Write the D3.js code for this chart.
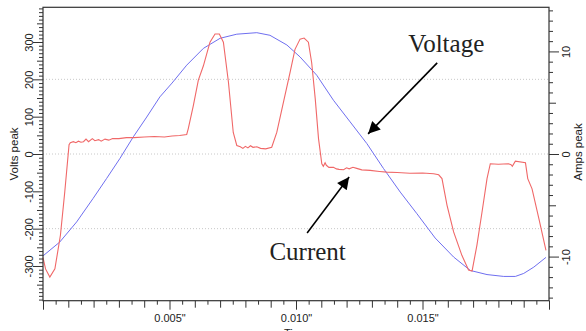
<!DOCTYPE html>
<html><head><meta charset="utf-8">
<script src="https://cdn.jsdelivr.net/npm/d3@7"></script>
<style>
html,body{margin:0;padding:0;background:#fff;}
svg{display:block;}
text{font-family:"Liberation Sans",Arial,sans-serif;fill:#222;}
</style></head>
<body>
<svg id="chart" width="586" height="331"></svg>
<script>
// ---- data (time in ms) ----
const voltageTime = [0,0.66,1.33,1.98,2.51,3.04,3.57,4.1,4.62,5.1,5.68,6.34,7.0,7.66,8.45,8.97,9.64,10.16,10.82,11.48,12.14,12.8,13.46,14.12,14.78,15.5,16.23,16.89,17.55,18.21,18.67,19.0,19.4,19.88];
const voltageValues = [-273,-236,-182,-119,-66,-12,46,99,153,190,238,283,310,321,325,318,292,260,211,144,86,28,-39,-102,-160,-225,-276,-312,-323,-328,-328,-320,-303,-277];

const currentTime = [0,0.1,0.27,0.47,0.69,0.86,1.03,1.08,1.2,1.3,1.4,1.5,1.6,1.7,1.8,1.95,2.05,2.2,2.3,2.45,2.6,2.75,3.0,3.3,3.6,4.0,4.4,4.8,5.1,5.4,5.68,5.74,5.94,6.14,6.34,6.6,6.8,6.97,7.13,7.33,7.52,7.66,7.8,7.9,8.0,8.1,8.2,8.3,8.45,8.6,8.8,9.04,9.24,9.5,9.77,9.96,10.16,10.32,10.49,10.62,10.76,10.89,11.02,11.08,11.15,11.2,11.3,11.48,11.6,11.7,11.88,12.0,12.1,12.25,12.4,12.6,12.93,13.3,13.59,14.0,14.5,15.0,15.44,15.64,15.77,15.97,16.23,16.56,16.82,16.96,17.15,17.35,17.55,17.68,18.0,18.4,18.5,18.55,18.67,19.07,19.16,19.33,19.6,19.88];
const currentValues = [-10.1,-11.2,-12.0,-11.2,-7.9,-3.7,0.9,1.1,1.2,1.1,1.25,1.15,1.2,1.45,1.2,1.5,1.3,1.4,1.25,1.45,1.35,1.5,1.5,1.6,1.6,1.65,1.7,1.65,1.75,1.8,1.9,2.45,4.7,7.2,8.6,10.9,11.7,11.7,10.9,7.0,2.1,0.83,0.7,0.55,0.75,0.6,0.8,0.65,0.7,0.55,0.5,0.66,2.1,5.0,8.0,10.2,11.2,11.3,10.9,8.9,5.4,1.5,-0.95,-1.2,-0.85,-1.1,-1.3,-1.3,-1.45,-1.5,-1.54,-1.35,-1.45,-1.3,-1.4,-1.55,-1.6,-1.7,-1.77,-1.8,-1.87,-1.85,-1.93,-2.03,-2.4,-5.0,-7.6,-9.9,-11.3,-11.4,-8.9,-5.7,-2.4,-0.95,-1.0,-0.95,-1.05,-1.2,-0.7,-0.86,-2.4,-3.4,-6.3,-9.4];

const xDomainMs = [0, 20];
const voltDomain = [-393, 393];
const ampDomain = [-14.3, 14.3];
const xLabelTicksMs = [5, 10, 15];
const voltLabelTicks = [-300,-200,-100,0,100,200,300];
const ampLabelTicks = [-10, 0, 10];
const gridVolts = [-200, 0, 200];

// annotations
const annotationLabels = ["Voltage", "Current"];
const annotationText = [[14.44, 272], [8.95, -10.33]];
const annotationArrows = [[15.58, 244, 12.85, 54], [10.44, -7.7, 12.1, -2.24]];
const annotationAxis = ["volt", "amp"];

// ---- layout ----
const W = 586, H = 331;
const m = {left: 43, top: 7.3, right: 37, bottom: 30.3};
const svg = d3.select("#chart");
const x = d3.scaleLinear().domain(xDomainMs).range([m.left, W - m.right]);
const yV = d3.scaleLinear().domain(voltDomain).range([H - m.bottom, m.top]);
const yA = d3.scaleLinear().domain(ampDomain).range([H - m.bottom, m.top]);

// grid
svg.append("g").selectAll("line").data(gridVolts).join("line")
  .attr("x1", m.left).attr("x2", W - m.right)
  .attr("y1", d => yV(d)).attr("y2", d => yV(d))
  .attr("stroke", "#c8c8c8").attr("stroke-width", 1).attr("stroke-dasharray", "1,2");

// lines
const vLine = d3.line().x((d, i) => x(voltageTime[i])).y(d => yV(d));
const aLine = d3.line().x((d, i) => x(currentTime[i])).y(d => yA(d));
svg.append("path").datum(voltageValues).attr("d", vLine)
  .attr("fill", "none").attr("stroke", "#6f6ff0").attr("stroke-width", 1);
svg.append("path").datum(currentValues).attr("d", aLine)
  .attr("fill", "none").attr("stroke", "#f06868").attr("stroke-width", 1.1);

// axes
const fsz = "11px";
// bottom
const xt = d3.range(0, 20.001, 0.5).map(v => +v.toFixed(1));
const gx = svg.append("g").attr("transform", `translate(0,${H - m.bottom})`)
  .call(d3.axisBottom(x).tickValues(xt).tickSizeOuter(0)
    .tickFormat(d => xLabelTicksMs.includes(d) ? (d / 1000).toFixed(3) + '"' : ""));
gx.select(".domain").remove();
gx.selectAll(".tick line").attr("stroke", "#333")
  .attr("y2", d => d % 5 === 0 ? 9 : (d % 1 === 0 ? 7 : 4));
gx.selectAll(".tick text").attr("y", 14).attr("dy", "0.71em").style("font-size", fsz).attr("fill", "#222");
svg.append("text").attr("x", (x.range()[0] + x.range()[1]) / 2).attr("y", 337)
  .attr("text-anchor", "middle").style("font-size", fsz).text("Time");

// left
const vt = d3.range(-390, 391, 10);
const gl = svg.append("g").attr("transform", `translate(${m.left},0)`)
  .call(d3.axisLeft(yV).tickValues(vt).tickSizeOuter(0)
    .tickFormat(d => voltLabelTicks.includes(d) ? d : ""));
gl.select(".domain").remove();
gl.selectAll(".tick line").attr("stroke", "#333")
  .attr("x2", d => d % 100 === 0 ? -10 : (d % 50 === 0 ? -6 : -4));
gl.selectAll(".tick text").attr("x", 0).attr("dy", 0)
  .attr("transform", "translate(-10,0) rotate(-90)")
  .attr("text-anchor", "middle").style("font-size", fsz).attr("fill", "#222");
svg.append("text").attr("transform", `translate(18,${yV(0)}) rotate(-90)`)
  .attr("text-anchor", "middle").style("font-size", "11.5px").text("Volts peak");

// right
const at = d3.range(-14, 15, 1);
const gr = svg.append("g").attr("transform", `translate(${W - m.right},0)`)
  .call(d3.axisRight(yA).tickValues(at).tickSizeOuter(0)
    .tickFormat(d => ampLabelTicks.includes(d) ? d : ""));
gr.select(".domain").remove();
gr.selectAll(".tick line").attr("stroke", "#333")
  .attr("x2", d => d % 10 === 0 ? 10 : (d % 5 === 0 ? 7 : 4));
gr.selectAll(".tick text").attr("x", 0).attr("dy", 0)
  .attr("transform", "translate(21,0) rotate(-90)")
  .attr("text-anchor", "middle").style("font-size", fsz).attr("fill", "#222");
svg.append("text").attr("transform", `translate(582,${yA(0) - 2}) rotate(-90)`)
  .attr("text-anchor", "middle").style("font-size", "11.5px").text("Amps peak");

// frame
svg.append("rect").attr("x", m.left).attr("y", m.top)
  .attr("width", W - m.left - m.right).attr("height", H - m.top - m.bottom)
  .attr("fill", "none").attr("stroke", "#333").attr("stroke-width", 1.2);

// annotations
const defs = svg.append("defs");
defs.append("marker").attr("id", "ah").attr("viewBox", "0 0 10 10")
  .attr("refX", 10).attr("refY", 5).attr("markerWidth", 14).attr("markerHeight", 12)
  .attr("markerUnits", "userSpaceOnUse").attr("orient", "auto")
  .append("path").attr("d", "M0,0 L10,5 L0,10 Z").attr("fill", "#000");

annotationLabels.forEach((lab, i) => {
  const ys = annotationAxis[i] === "volt" ? yV : yA;
  const [tt, ty] = annotationText[i];
  svg.append("text").attr("x", x(tt)).attr("y", ys(ty))
    .style("font-family", '"Liberation Serif","Times New Roman",serif')
    .style("font-size", "25px").attr("fill", "#000").text(lab);
  const [fx, fy, tx2, ty2] = annotationArrows[i];
  svg.append("line").attr("x1", x(fx)).attr("y1", ys(fy))
    .attr("x2", x(tx2)).attr("y2", ys(ty2))
    .attr("stroke", "#000").attr("stroke-width", 1.6).attr("marker-end", "url(#ah)");
});
</script>
</body></html>
